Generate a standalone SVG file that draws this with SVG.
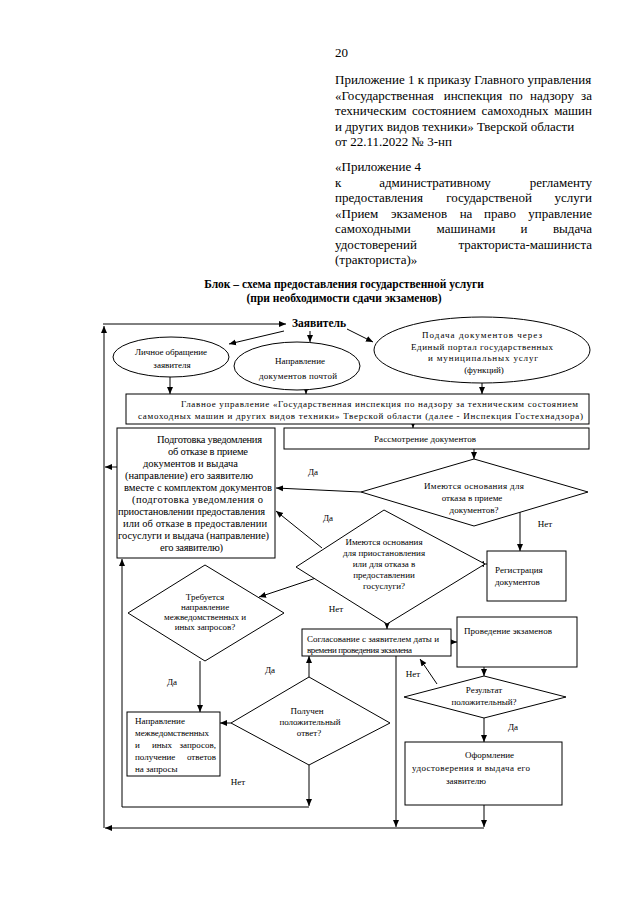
<svg xmlns="http://www.w3.org/2000/svg" width="640" height="905" viewBox="0 0 640 905">
<style>
text{font-family:"Liberation Serif","Times New Roman",serif;fill:#000}
.h{font-size:13px}
.tt{font-size:11.5px;font-weight:bold}
.s{font-size:9px}
.m{font-size:10.5px}
.c{text-anchor:middle}
.e{text-anchor:end}
.n{fill:#fff;stroke:#000;stroke-width:1}
.ln{fill:none;stroke:#000;stroke-width:1}
</style>
<defs>
<marker id="ah" markerUnits="userSpaceOnUse" markerWidth="8" markerHeight="8" refX="7" refY="4" orient="auto" viewBox="0 0 8 8"><path d="M0,1 L7,4 L0,7 Z" fill="#000"/></marker>
</defs>
<rect width="640" height="905" fill="#fff"/>
<g id="header">
<text class="h" x="335" y="57">20</text>
<text class="h" x="335" y="84">Приложение 1 к приказу Главного управления</text>
<text class="h" x="335" y="99.5">«Государственная</text><text class="h c" x="473" y="99.5">инспекция</text><text class="h c" x="516" y="99.5">по</text><text class="h c" x="552" y="99.5">надзору</text><text class="h e" x="592" y="99.5">за</text>
<text class="h" x="335" y="115">техническим</text><text class="h c" x="444" y="115">состоянием</text><text class="h c" x="515" y="115">самоходных</text><text class="h e" x="592" y="115">машин</text>
<text class="h" x="335" y="130.5">и других видов техники» Тверской области</text>
<text class="h" x="335" y="146">от 22.11.2022 № 3-нп</text>
<text class="h" x="335" y="171">«Приложение 4</text>
<text class="h" x="335" y="186.5">к</text><text class="h c" x="435" y="186.5">административному</text><text class="h e" x="592" y="186.5">регламенту</text>
<text class="h" x="335" y="202">предоставления</text><text class="h c" x="489" y="202">государственой</text><text class="h e" x="592" y="202">услуги</text>
<text class="h" x="335" y="217.5">«Прием</text><text class="h c" x="419" y="217.5">экзаменов</text><text class="h c" x="466" y="217.5">на</text><text class="h c" x="500" y="217.5">право</text><text class="h e" x="592" y="217.5">управление</text>
<text class="h" x="335" y="233">самоходными</text><text class="h c" x="466" y="233">машинами</text><text class="h c" x="524" y="233">и</text><text class="h e" x="592" y="233">выдача</text>
<text class="h" x="335" y="248.5">удостоверений</text><text class="h e" x="592" y="248.5">тракториста-машиниста</text>
<text class="h" x="335" y="264">(тракториста)»</text>
<text class="tt c" x="344" y="288">Блок – схема предоставления государственной услуги</text>
<text class="tt c" x="344" y="302">(при необходимости сдачи экзаменов)</text>
</g>
<g id="connectors" class="ln">
<path d="M104,828 V326" marker-end="url(#ah)"/>
<path d="M103,324 H286" marker-end="url(#ah)"/>
<path d="M284,331 L229,344" marker-end="url(#ah)"/>
<path d="M310,331 V342" marker-end="url(#ah)"/>
<path d="M347,329 L373,342" marker-end="url(#ah)"/>
<path d="M170,377 V394" marker-end="url(#ah)"/>
<path d="M306,388 V394" marker-end="url(#ah)"/>
<path d="M482,383 V394" marker-end="url(#ah)"/>
<path d="M413,422 V428" marker-end="url(#ah)"/>
<path d="M474,449 V459" marker-end="url(#ah)"/>
<path d="M361,492 L276,488" marker-end="url(#ah)"/>
<path d="M520,510 V551" marker-end="url(#ah)"/>
<path d="M487,564 H477" marker-end="url(#ah)"/>
<path d="M322,548 L276,511" marker-end="url(#ah)"/>
<path d="M316,578 L259,597" marker-end="url(#ah)"/>
<path d="M200,661 V712" marker-end="url(#ah)"/>
<path d="M387,621 V629" marker-end="url(#ah)"/>
<path d="M231,723 H220" marker-end="url(#ah)"/>
<path d="M309,677 V656" marker-end="url(#ah)"/>
<path d="M309,765 V806" marker-end="url(#ah)"/>
<path d="M309,807 H122 V559" marker-end="url(#ah)"/>
<path d="M451,642 H457" marker-end="url(#ah)"/>
<path d="M484,667 V676" marker-end="url(#ah)"/>
<path d="M437,684 L420,659" marker-end="url(#ah)"/>
<path d="M396,656 V827" marker-end="url(#ah)"/>
<path d="M484,718 V742" marker-end="url(#ah)"/>
<path d="M484,805 V827" marker-end="url(#ah)"/>
<path d="M484,828 H105" marker-end="url(#ah)"/>
<path d="M117,467 H105" marker-end="url(#ah)"/>
</g>
<g id="labels">
<text class="s c" x="313" y="475">Да</text>
<text class="s c" x="328" y="521">Да</text>
<text class="s c" x="545" y="527">Нет</text>
<text class="s c" x="336" y="612">Нет</text>
<text class="s c" x="172" y="685">Да</text>
<text class="s c" x="270" y="673">Да</text>
<text class="s c" x="238" y="785">Нет</text>
<text class="s c" x="413" y="677">Нет</text>
<text class="s c" x="513" y="730">Да</text>
</g>
<g id="applicant">
<text x="319" y="327" class="c" style="font-size:11.5px;font-weight:bold" textLength="54">Заявитель</text>
</g>
<g id="personal">
<ellipse class="n" cx="171" cy="357" rx="58" ry="20"/>
<text class="s c" x="171" y="355" textLength="72">Личное обращение</text>
<text class="s c" x="172" y="368">заявителя</text>
</g>
<g id="mail">
<ellipse class="n" cx="297" cy="366" rx="63" ry="24"/>
<text class="s c" x="300" y="364">Направление</text>
<text class="s c" x="298" y="379" textLength="78">документов почтой</text>
</g>
<g id="portal">
<ellipse class="n" cx="482" cy="350" rx="108" ry="33"/>
<text class="s c" x="482" y="338" textLength="120">Подача документов через</text>
<text class="s c" x="482" y="349.5" textLength="142">Единый портал государственных</text>
<text class="s c" x="483" y="361" textLength="110">и муниципальных услуг</text>
<text class="s c" x="484" y="372.5">(функций)</text>
</g>
<g id="gu">
<rect class="n" x="126" y="394" width="463" height="30"/>
<text class="s" x="181" y="407" textLength="397">Главное управление «Государственная инспекция по надзору за техническим состоянием</text>
<text class="s" x="138" y="419" textLength="445">самоходных машин и других видов техники» Тверской области (далее - Инспекция Гостехнадзора)</text>
</g>
<g id="review">
<rect class="n" x="284" y="428" width="305" height="21"/>
<text class="s" x="374" y="442" textLength="102">Рассмотрение документов</text>
</g>
<g id="refusal">
<rect class="n" x="117" y="428" width="158" height="130"/>
<text class="m" x="157" y="443" textLength="105">Подготовка уведомления</text>
<text class="m" x="168" y="455" textLength="80">об отказе в приеме</text>
<text class="m" x="143" y="467" textLength="95">документов и выдача</text>
<text class="m" x="125" y="479" textLength="128">(направление) его заявителю</text>
<text class="m" x="124" y="491" textLength="148">вместе с комплектом документов</text>
<text class="m" x="132" y="503" textLength="131">(подготовка уведомления о</text>
<text class="m" x="118" y="515" textLength="147">приостановлении предоставления</text>
<text class="m" x="123" y="527" textLength="144">или об отказе в предоставлении</text>
<text class="m" x="118" y="539" textLength="151">госуслуги и выдача (направление)</text>
<text class="m" x="160" y="551" textLength="63">его заявителю)</text>
</g>
<g id="d1">
<polygon class="n" points="474,459 588,492 474,526 361,492"/>
<text class="s c" x="474" y="489" textLength="100">Имеются основания для</text>
<text class="s c" x="472" y="501">отказа в приеме</text>
<text class="s c" x="474" y="513">документов?</text>
</g>
<g id="registration">
<rect class="n" x="487" y="551" width="79" height="50"/>
<text class="s" x="495" y="573">Регистрация</text>
<text class="s" x="495" y="585">документов</text>
</g>
<g id="d2">
<polygon class="n" points="384,510 485,564 387,624 296,567"/>
<text class="s c" x="384" y="545">Имеются основания</text>
<text class="s c" x="384" y="556">для приостановления</text>
<text class="s c" x="384" y="567">или для отказа в</text>
<text class="s c" x="384" y="578">предоставлении</text>
<text class="s c" x="384" y="589">госуслуги?</text>
</g>
<g id="d3">
<polygon class="n" points="205,565 284,613 205,661 128,613"/>
<text class="s c" x="205" y="600">Требуется</text>
<text class="s c" x="205" y="610">направление</text>
<text class="s c" x="205" y="620">межведомственных и</text>
<text class="s c" x="205" y="630">иных запросов?</text>
</g>
<g id="requests">
<rect class="n" x="127" y="712" width="93" height="64"/>
<text class="s" x="135" y="724">Направление</text>
<text class="s" x="135" y="736" textLength="74">межведомственных</text>
<text class="s" x="135" y="748">и</text><text class="s c" x="162" y="748">иных</text><text class="s e" x="216" y="748">запросов,</text>
<text class="s" x="135" y="760">получение</text><text class="s e" x="216" y="760">ответов</text>
<text class="s" x="135" y="772">на запросы</text>
</g>
<g id="d4">
<polygon class="n" points="309,677 390,723 309,765 231,723"/>
<text class="s c" x="307" y="714">Получен</text>
<text class="s c" x="310" y="725">положительный</text>
<text class="s c" x="309" y="736">ответ?</text>
</g>
<g id="agree">
<rect class="n" x="302" y="629" width="149" height="27"/>
<text class="s" x="307" y="642" textLength="132">Согласование с заявителем даты и</text>
<text class="s" x="307" y="653" textLength="105">времени проведения экзамена</text>
</g>
<g id="exam">
<rect class="n" x="457" y="617" width="120" height="50"/>
<text class="s" x="464" y="634" textLength="88">Проведение экзаменов</text>
</g>
<g id="d5">
<polygon class="n" points="484,676 566,697 484,718 404,697"/>
<text class="s c" x="484" y="693">Результат</text>
<text class="s c" x="484" y="705">положительный?</text>
</g>
<g id="issue">
<rect class="n" x="405" y="742" width="157" height="63"/>
<text class="s" x="465" y="758">Оформление</text>
<text class="s" x="412" y="771" textLength="118">удостоверения и выдача его</text>
<text class="s" x="446" y="784">заявителю</text>
</g>
</svg>
